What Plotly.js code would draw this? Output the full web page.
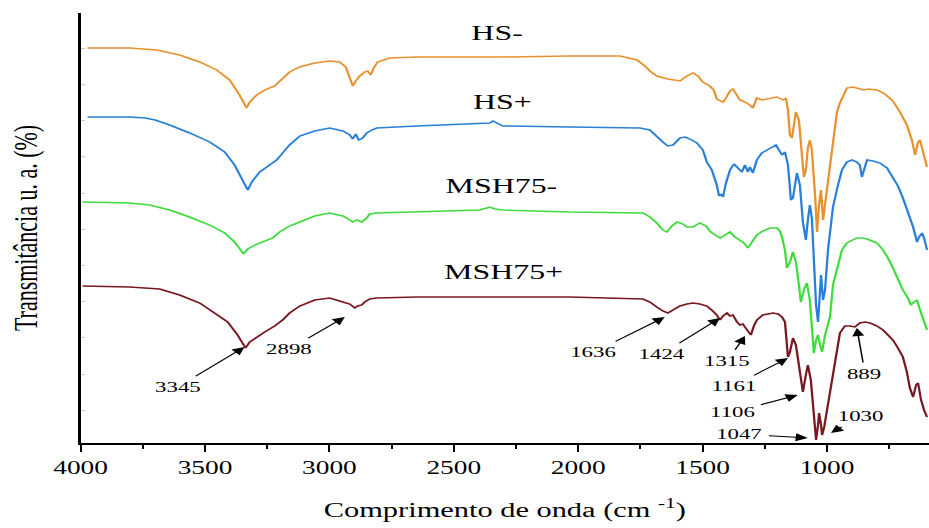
<!DOCTYPE html>
<html>
<head>
<meta charset="utf-8">
<script src="https://cdn.plot.ly/plotly-3.0.1.min.js"></script>
<style>
  html, body { margin: 0; padding: 0; background: #fff; overflow: hidden; width: 929px; height: 528px; }
  #wrap { width: 611px; height: 528px; transform: scaleX(1.5205); transform-origin: 0 0; }
  #chart { width: 611px; height: 528px; }
</style>
</head>
<body>
<div id="wrap"><div id="chart"></div></div>
<script>
// ---- Data (wavenumber in cm-1, transmittance in arbitrary units) ----
const hsMinusWn = [3972,3924,3803,3694,3602,3521,3453,3401,3361,3333,3320,3292,3260,3220,3188,3160,3119,3059,2999,2959,2934,2918,2906,2894,2878,2858,2846,2834,2822,2806,2757,2649,2315,2034,1833,1764,1732,1712,1684,1640,1591,1563,1539,1519,1499,1471,1455,1443,1430,1418,1406,1390,1378,1362,1350,1330,1310,1298,1282,1262,1229,1201,1177,1165,1157,1149,1141,1133,1125,1113,1101,1093,1085,1077,1069,1061,1048,1040,1032,1024,1016,1004,988,976,960,948,920,896,868,852,835,799,767,735,707,679,659,646,634,626,614,598];
const hsMinusT  = [395,395,395,393,388,381,373,363,348,335,341,348,353,357,365,371,376,380,382,381,376,366,357,362,367,371,372,368,375,381,385,386,386,387,387,383,377,372,367,364,362,367,370,367,361,357,353,344,342,341,345,352,354,348,343,341,338,335,345,343,345,346,343,345,333,308,305,321,331,323,293,266,273,295,303,293,248,211,238,253,223,248,278,303,331,340,355,356,354,353,354,353,349,342,331,318,303,288,301,303,291,276];

const hsPlusWn = [3972,3803,3740,3700,3642,3562,3481,3421,3381,3349,3328,3312,3280,3240,3212,3188,3160,3119,3059,2999,2946,2918,2906,2894,2882,2866,2850,2830,2810,2649,2396,2355,2343,2327,2303,2034,1752,1712,1684,1660,1640,1619,1591,1571,1551,1523,1499,1483,1463,1443,1434,1426,1418,1406,1390,1374,1358,1342,1330,1318,1310,1298,1282,1262,1241,1221,1205,1193,1181,1169,1157,1145,1137,1121,1109,1097,1085,1077,1069,1061,1053,1044,1036,1028,1024,1016,1008,996,976,956,940,920,900,880,868,860,852,839,815,787,759,735,715,695,675,654,638,630,618,610,598];
const hsPlusT  = [326,326,325,323,318,310,301,291,278,263,253,261,271,278,283,290,298,307,312,315,312,308,304,309,303,305,310,313,315,317,319,320,322,320,317,316,315,313,306,301,297,298,305,306,304,300,293,281,273,258,247,249,246,260,273,279,275,271,278,271,276,270,283,290,293,296,298,293,288,291,278,243,245,270,258,221,203,223,238,225,178,138,121,153,168,143,153,193,236,258,273,281,283,281,278,266,273,283,282,280,275,266,257,245,231,216,201,206,210,205,193];

const msh75MinusWn = [3992,3803,3723,3642,3562,3481,3421,3381,3345,3328,3300,3260,3228,3200,3160,3119,3059,2999,2946,2918,2906,2890,2870,2850,2838,2810,2649,2396,2367,2355,2335,2303,2034,1740,1712,1684,1660,1644,1623,1603,1579,1563,1539,1511,1487,1467,1443,1430,1410,1390,1370,1350,1334,1318,1302,1282,1258,1229,1201,1189,1181,1169,1161,1149,1137,1125,1113,1105,1093,1081,1069,1061,1053,1044,1036,1028,1020,1008,988,976,960,940,920,900,880,860,839,819,799,775,755,735,715,695,675,663,650,638,626,614,598];
const msh75MinusT  = [241,240,238,233,226,218,210,201,189,194,198,202,205,211,217,221,227,230,227,223,221,223,221,225,229,230,231,233,235,236,234,233,231,230,226,220,213,211,217,221,219,216,216,220,217,211,207,205,208,211,206,203,200,195,201,208,212,215,215,212,206,193,175,181,191,181,158,141,153,160,143,113,90,103,108,98,91,108,126,158,173,193,200,203,205,205,204,202,200,193,185,175,163,153,145,138,141,143,133,123,113];

const msh75PlusWn = [3992,3803,3682,3602,3521,3453,3409,3369,3337,3320,3292,3260,3220,3188,3160,3119,3059,2999,2946,2918,2898,2886,2870,2858,2838,2810,2649,2315,2034,1740,1712,1684,1660,1640,1619,1591,1563,1539,1511,1483,1459,1443,1430,1418,1402,1390,1378,1362,1350,1338,1330,1318,1306,1294,1282,1258,1237,1217,1197,1181,1169,1157,1149,1137,1125,1113,1097,1085,1077,1065,1057,1044,1036,1032,1024,1020,1012,1000,988,976,960,948,928,908,888,868,847,827,799,775,755,735,715,695,679,667,654,642,634,622,610,598];
const msh75PlusT  = [157,156,154,148,140,129,121,108,95,101,106,111,117,123,130,137,143,145,141,139,135,137,138,141,144,145,146,146,146,144,141,136,132,130,133,137,139,140,139,137,132,128,123,127,130,127,128,121,118,119,116,112,108,117,123,128,129,130,129,126,121,86,91,105,98,78,51,68,78,63,43,3,18,30,18,8,15,33,53,73,98,110,117,117,116,120,121,120,117,113,108,103,95,86,71,55,46,58,60,43,33,26];

const seriesNames  = ['HS-', 'HS+', 'MSH75-', 'MSH75+'];
const seriesColors = ['#E8912F', '#2A80D6', '#3FDB3F', '#7A1822'];

// Series labels (positions in data coordinates)
const seriesLabelWn = [2327, 2307, 2307, 2303];
const seriesLabelY  = [410, 341, 257, 171];

// Peak annotations
const peakLabels = ['3345','2898','1636','1424','1315','1161','1106','1047','1030','889'];
const peakTipWn  = [3341, 2938, 1652, 1430, 1330, 1157, 1117, 1077, 984, 880];
const peakTipY   = [96, 126, 126, 125, 107, 85, 48, 5, 10, 115];
const peakTextWn = [3610, 3160, 1937, 1664, 1402, 1378, 1378, 1350, 864, 847];
const peakTextY  = [56, 94, 91, 89, 82, 57, 31, 9, 27, 69];

const FONT = '"Liberation Serif", "Times New Roman", Times, serif';

const xs = [hsMinusWn, hsPlusWn, msh75MinusWn, msh75PlusWn];
const ys = [hsMinusT, hsPlusT, msh75MinusT, msh75PlusT];

const traces = seriesNames.map((name, i) => ({
  type: 'scatter',
  mode: 'lines',
  name: name,
  x: xs[i],
  y: ys[i],
  line: { color: seriesColors[i], width: 1.5 },
  hoverinfo: 'skip'
}));

const annotations = [];
seriesNames.forEach((name, i) => {
  annotations.push({
    x: seriesLabelWn[i], y: seriesLabelY[i], xref: 'x', yref: 'y',
    text: name, showarrow: false,
    font: { family: FONT, size: 21, color: '#000' }
  });
});
peakLabels.forEach((lab, i) => {
  annotations.push({
    x: peakTipWn[i], y: peakTipY[i], xref: 'x', yref: 'y',
    ax: peakTextWn[i], ay: peakTextY[i], axref: 'x', ayref: 'y',
    text: lab, showarrow: true,
    arrowhead: 2, arrowsize: 1.6, arrowwidth: 1, arrowcolor: '#000',
    standoff: 0, startstandoff: 2,
    font: { family: FONT, size: 15, color: '#000' }
  });
});

const layout = {
  width: 611, height: 528,
  margin: { l: 53, r: 0, t: 13, b: 85 },
  paper_bgcolor: '#fff', plot_bgcolor: '#fff',
  showlegend: false,
  xaxis: {
    range: [4000, 590],
    tick0: 0, dtick: 500,
    ticks: 'outside', ticklen: 7, tickwidth: 1.3, tickcolor: '#000',
    showline: true, linecolor: '#000', linewidth: 2,
    showgrid: false, zeroline: false,
    tickfont: { family: FONT, size: 18, color: '#000' },
    minor: { dtick: 250, ticks: 'outside', ticklen: 4, tickwidth: 1.3, tickcolor: '#000', showgrid: false },
    title: { text: 'Comprimento de onda (cm <sup>-1</sup>)', font: { family: FONT, size: 20, color: '#000' }, standoff: 26 }
  },
  yaxis: {
    range: [0, 430],
    showticklabels: false,
    ticks: 'inside', ticklen: 3, tickwidth: 1, tickcolor: '#c8c8c8',
    tick0: 32.7, dtick: 36.2,
    showline: true, linecolor: '#000', linewidth: 1.6,
    showgrid: false, zeroline: false,
    title: { text: 'Transmitância u. a. (%)', font: { family: FONT, size: 22, color: '#000' }, standoff: 20 }
  },
  annotations: annotations
};

Plotly.newPlot('chart', traces, layout, { displayModeBar: false, staticPlot: true });
</script>
</body>
</html>
